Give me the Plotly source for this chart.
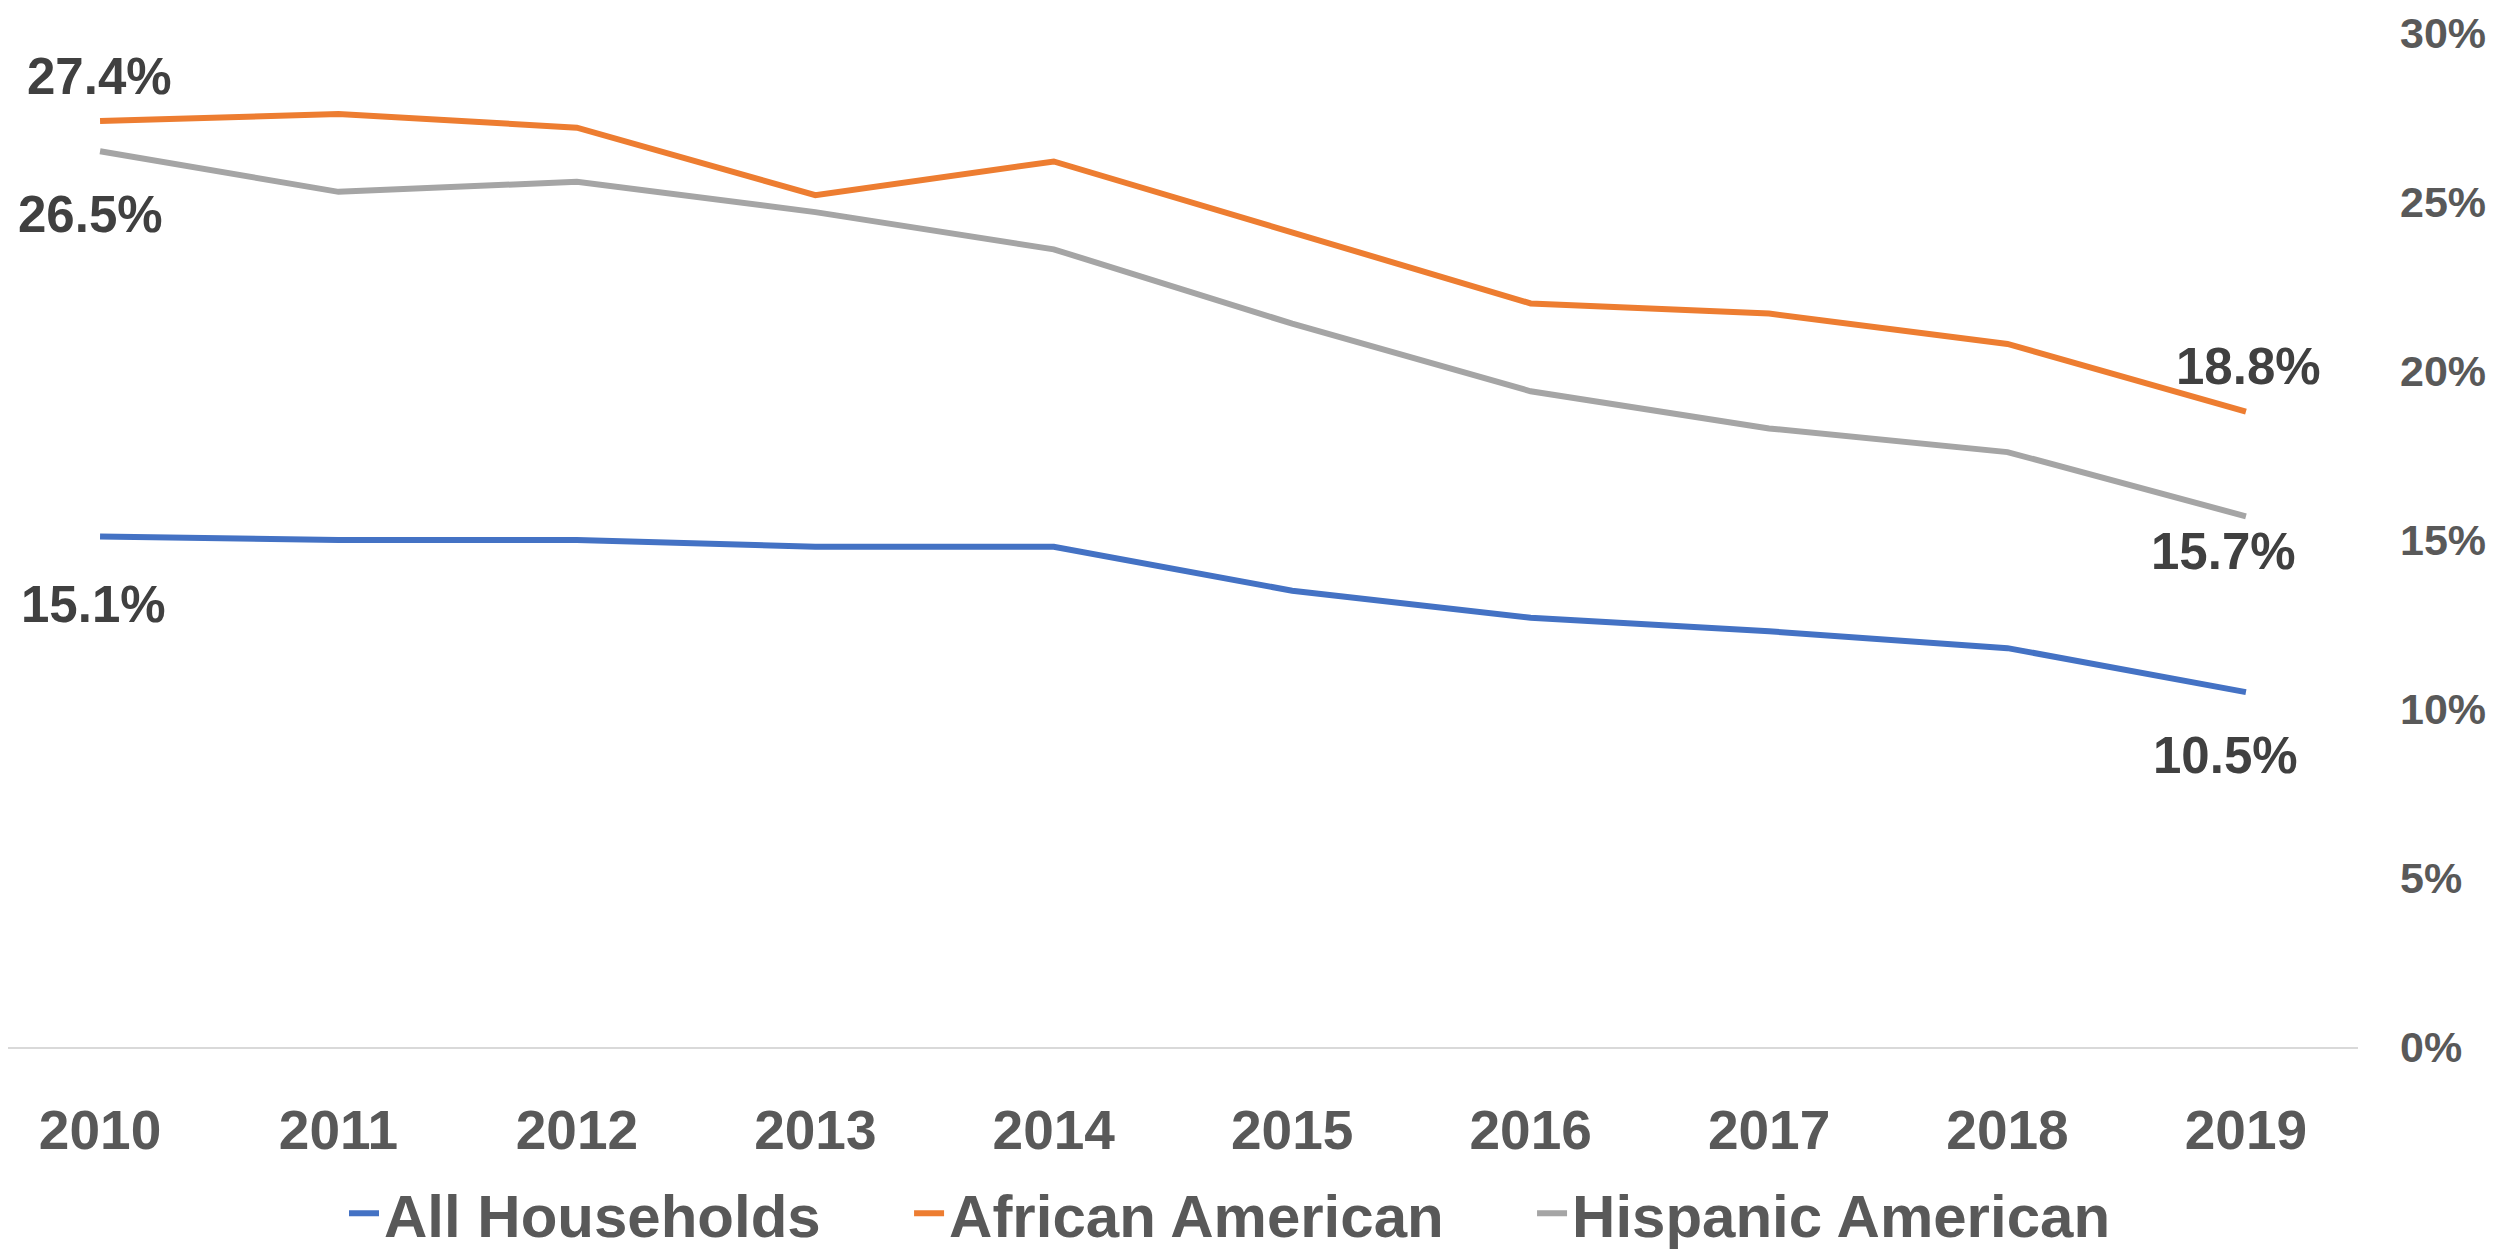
import plotly.graph_objects as go

years = [2010, 2011, 2012, 2013, 2014, 2015, 2016, 2017, 2018, 2019]
all_households = [15.1, 15.0, 15.0, 14.8, 14.8, 13.5, 12.7, 12.3, 11.8, 10.5]
african_american = [27.4, 27.6, 27.2, 25.2, 26.2, 24.1, 22.0, 21.7, 20.8, 18.8]
hispanic_american = [26.5, 25.3, 25.6, 24.7, 23.6, 21.4, 19.4, 18.3, 17.6, 15.7]
series_names = ["All Households", "African American", "Hispanic American"]
series_colors = ["#4472C4", "#ED7D31", "#A5A5A5"]
y_ticks = [0, 5, 10, 15, 20, 25, 30]

FONT = "Liberation Sans, Arial, sans-serif"
GAP = "&nbsp;" * 5

fig = go.Figure()
for k, (name, vals, col) in enumerate(zip(series_names,
                           [all_households, african_american, hispanic_american],
                           series_colors)):
    label = f"<b>{name}</b>" + (GAP if k < len(series_names) - 1 else "")
    fig.add_trace(go.Scatter(x=years, y=vals, mode="lines", name=label,
                             line=dict(color=col, width=6)))

# data labels: (series values, index, x pixel shift, y pixel shift)
label_specs = [
    (african_american, 0, -1, 44),
    (hispanic_american, 0, -10, -63),
    (all_households, 0, -7, -68),
    (african_american, 9, 3, 45),
    (hispanic_american, 9, -22, -35),
    (all_households, 9, -20, -63),
]
for vals, i, xs, ys in label_specs:
    fig.add_annotation(x=years[i], y=vals[i], text=f"<b>{vals[i]:.1f}%</b>",
                       showarrow=False, xshift=xs, yshift=ys,
                       font=dict(family=FONT, size=51, color="#404040"))

fig.update_layout(
    width=2496, height=1251,
    margin=dict(l=0, r=146, t=25, b=194),
    paper_bgcolor="white", plot_bgcolor="white",
    showlegend=True,
    legend=dict(orientation="h", x=0.52, xanchor="center", y=-0.164,
                yanchor="middle",
                font=dict(family=FONT, size=60, color="#595959"),
                itemwidth=30, tracegroupgap=0),
    font=dict(family=FONT),
)
fig.update_xaxes(
    range=[2009.614, 2019.47], tickmode="array", tickvals=years,
    ticktext=[f"<b>{y}</b>" for y in years],
    showgrid=False, zeroline=False, showline=True, linecolor="#D9D9D9",
    linewidth=2, ticks="", ticklabelstandoff=34,
    tickfont=dict(family=FONT, size=55, color="#595959"),
)
fig.update_yaxes(
    range=[0, 30], side="right", tickmode="array", tickvals=y_ticks,
    ticktext=[f"<b>{v}%</b>" for v in y_ticks],
    showgrid=False, zeroline=False, showline=False, ticks="",
    ticklabelstandoff=41,
    tickfont=dict(family=FONT, size=43, color="#595959"),
)

fig.write_html("out.html")
